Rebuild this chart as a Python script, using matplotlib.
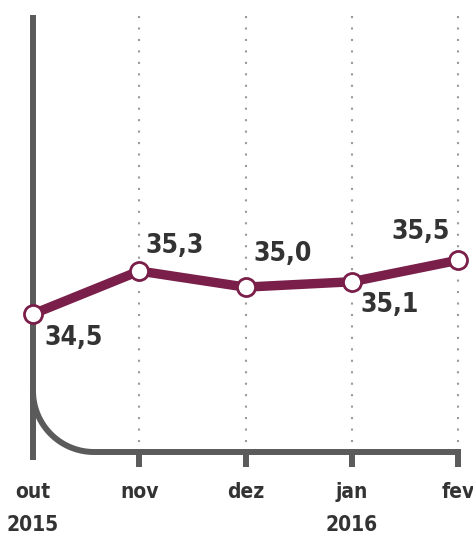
import matplotlib
matplotlib.use("Agg")
import matplotlib.pyplot as plt
import numpy as np

months = ["out", "nov", "dez", "jan", "fev"]
years = ["2015", "", "", "2016", ""]
values = [34.5, 35.3, 35.0, 35.1, 35.5]
value_labels = ["34,5", "35,3", "35,0", "35,1", "35,5"]

W, H = 473, 534
fig = plt.figure(figsize=(W / 100, H / 100), dpi=100)
ax = fig.add_axes([0, 0, 1, 1])

# pixel mapping (layout)
x0_px, dx_px = 33, 106.25
y0_px, dy_px = 314, 53.75  # pixel of 34.5, px per unit
xlim = (-x0_px / dx_px, (W - x0_px) / dx_px)
ylim = (34.5 - (H - y0_px) / dy_px, 34.5 + y0_px / dy_px)
ax.set_xlim(*xlim)
ax.set_ylim(*ylim)
ax.axis("off")

def px2x(p):
    return (p - x0_px) / dx_px

def px2y(p):
    return 34.5 + (y0_px - p) / dy_px

gray = "#5b5b5b"
dotgray = "#9a9a9a"
maroon = "#7a1e4a"
txt = "#333333"
font = ["DejaVu Sans"]

xs = np.arange(len(months))

# dotted gridlines
for i in xs[1:]:
    ax.plot([i, i], [px2y(16), px2y(444)], color=dotgray, lw=1.5,
            linestyle=(0, (1, 4.5)), solid_capstyle="butt", zorder=1)
    ax.plot([i, i], [px2y(452), px2y(467)], color=gray, lw=4.3,
            solid_capstyle="butt", zorder=2)

# left axis line
ax.plot([0, 0], [px2y(15), px2y(460)], color=gray, lw=4.3,
        solid_capstyle="butt", zorder=2)
# bottom line
ax.plot([px2x(94), px2x(461)], [px2y(452), px2y(452)], color=gray, lw=4.3,
        solid_capstyle="butt", zorder=2)
# curved corner
r = 61
cx, cy = 33 + r, 452 - r
th = np.linspace(np.pi, 1.5 * np.pi, 60)
ax.plot(px2x(cx + r * np.cos(th)), px2y(cy - r * np.sin(th)), color=gray,
        lw=4.3, solid_capstyle="butt", zorder=2)

# data line
ax.plot(xs, values, color=maroon, lw=6.8, zorder=3, solid_capstyle="round")
ax.plot(xs, values, linestyle="none", marker="o", markersize=13,
        markerfacecolor="white", markeredgecolor=maroon, markeredgewidth=2.0,
        zorder=4)

# value labels (offsets in pixels)
offsets = [(41, 24), (35, -25), (37, -33), (38, 23), (-37, -28)]
for i, (v, lab) in enumerate(zip(values, value_labels)):
    ox, oy = offsets[i]
    ax.annotate(lab, (i, v), xytext=(ox * 0.72, -oy * 0.72),
                textcoords="offset points", ha="center", va="center",
                fontsize=19, fontweight="bold", fontstretch="condensed",
                color=txt, family=font, zorder=5)

# month labels
for i, (m, y) in enumerate(zip(months, years)):
    ax.text(i, px2y(492), m, ha="center", va="center", fontsize=15,
            fontweight="bold", fontstretch="condensed", color=txt, family=font)
    if y:
        ax.text(i, px2y(525), y, ha="center", va="center", fontsize=15,
                fontweight="bold", fontstretch="condensed", color=txt,
                family=font)

fig.savefig("out.png", dpi=100)
